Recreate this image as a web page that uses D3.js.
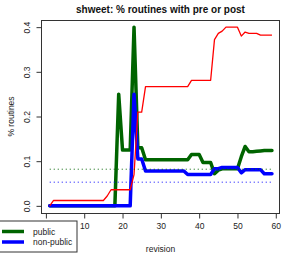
<!DOCTYPE html>
<html><head><meta charset="utf-8">
<script src="https://cdn.jsdelivr.net/npm/d3@7/dist/d3.min.js"></script>
<style>body{margin:0;background:#fff}svg{display:block}text{font-family:"Liberation Sans",Arial,Helvetica,sans-serif}</style>
</head><body><svg id="c" width="294" height="254"></svg>
<script>
const revisions = d3.range(1, 60);
const publicVals = [0,0,0,0,0,0,0,0,0,0, 0,0,0,0,0,0,0,0,0.25,0.125,
  0.125,0.125,0.4,0.13,0.13,0.103,0.103,0.103,0.103,0.103,
  0.103,0.103,0.103,0.103,0.103,0.103,0.103,0.115,0.115,0.115,
  0.097,0.097,0.097,0.072,0.08,0.083,0.083,0.083,0.083,0.083,
  0.11,0.133,0.121,0.121,0.122,0.123,0.124,0.124,0.124];
const nonPublicVals = [0,0,0,0,0,0,0,0,0,0, 0,0,0,0,0,0,0,0,0,0,
  0,0,0.25,0.105,0.105,0.078,0.078,0.078,0.078,0.078,
  0.078,0.078,0.078,0.078,0.078,0.078,0.07,0.07,0.07,0.07,
  0.07,0.07,0.07,0.083,0.083,0.086,0.086,0.086,0.086,0.086,
  0.074,0.081,0.081,0.081,0.081,0.081,0.072,0.072,0.072];
const prePostVals = [0,0.012,0.012,0.012,0.012,0.012,0.012,0.012,0.012,0.012,
  0.012,0.012,0.012,0.012,0.012,0.022,0.036,0.036,0.036,0.036,
  0.036,0.036,0.07,0.21,0.21,0.267,0.267,0.267,0.267,0.267,
  0.267,0.267,0.267,0.267,0.267,0.267,0.267,0.281,0.281,0.281,
  0.281,0.281,0.281,0.372,0.386,0.391,0.4,0.4,0.4,0.4,
  0.38,0.389,0.386,0.386,0.386,0.382,0.382,0.382,0.382];
const meanPublic = 0.082;
const meanNonPublic = 0.053;
const xTicks = [0,10,20,30,40,50,60];
const yTicks = [0,0.1,0.2,0.3,0.4];
const legendLabels = ["public","non-public"];
const legendColors = ["#006400","#0000ff"];

const svg = d3.select("#c");
const L=41, R=280, T=20, B=213;
const x = d3.scaleLinear().domain([-1.28, 61.1]).range([L, R]);
const y = d3.scaleLinear().domain([-0.016, 0.416]).range([B, T]);

const line = vals => d3.line().x((d,i)=>x(revisions[i])).y(d=>y(d))(vals);
const g = svg.append("g");
g.append("path").attr("d", line(publicVals)).attr("fill","none").attr("stroke","#006400").attr("stroke-width",3.5).attr("stroke-linejoin","round").attr("stroke-linecap","round");
g.append("path").attr("d", line(nonPublicVals)).attr("fill","none").attr("stroke","#0000ff").attr("stroke-width",3.5).attr("stroke-linejoin","round").attr("stroke-linecap","round");
g.append("path").attr("d", line(prePostVals)).attr("fill","none").attr("stroke","#ff0000").attr("stroke-width",1.3).attr("stroke-linejoin","round");
[[meanPublic,"#006400"],[meanNonPublic,"#0000ff"]].forEach(([m,c])=>{
  g.append("line").attr("x1",x(1)).attr("x2",x(59)).attr("y1",y(m)).attr("y2",y(m))
   .attr("stroke",c).attr("stroke-width",1).attr("stroke-dasharray","1,3");
});

// box
svg.append("rect").attr("x",L+0.5).attr("y",T+0.5).attr("width",R-L-1).attr("height",B-T).attr("fill","none").attr("stroke","#333").attr("stroke-width",1);

// x axis (the "0" label sits under the legend box in the reference, so it is not drawn)
const xa = svg.append("g").attr("transform",`translate(0,${B+0.5})`)
  .call(d3.axisBottom(x).tickValues(xTicks).tickSize(5).tickPadding(4).tickFormat(d => d === 0 ? "" : d3.format("d")(d)));
xa.select(".domain").attr("d",`M${x(0)},0H${x(60)}`).attr("stroke","#333");
xa.selectAll(".tick line").attr("stroke","#333");
xa.selectAll("text").attr("font-size",8.5).attr("fill","#222").attr("font-family","Liberation Sans, Arial, sans-serif");

// y axis
const ya = svg.append("g").attr("transform",`translate(${L+0.5},0)`)
  .call(d3.axisLeft(y).tickValues(yTicks).tickSize(5).tickFormat(d3.format(".1f")));
ya.select(".domain").attr("d",`M0,${y(0)}V${y(0.4)}`).attr("stroke","#333");
ya.selectAll(".tick line").attr("stroke","#333");
ya.selectAll("text").attr("font-size",8.5).attr("fill","#222").attr("font-family","Liberation Sans, Arial, sans-serif")
  .attr("x",null).attr("dy",null).attr("text-anchor","middle")
  .attr("transform","translate(-11.5,0) rotate(-90)");

// titles
svg.append("text").attr("x",(L+R)/2).attr("y",13.3).attr("text-anchor","middle").attr("font-size",10).attr("font-weight","bold").attr("fill","#111").text("shweet: % routines with pre or post");
svg.append("text").attr("x",(L+R)/2).attr("y",251.5).attr("text-anchor","middle").attr("font-size",8.5).attr("fill","#222").text("revision");
svg.append("text").attr("transform",`translate(14,${(T+B)/2}) rotate(-90)`).attr("text-anchor","middle").attr("font-size",8.5).attr("fill","#222").text("% routines");

// legend
const lg = svg.append("g");
lg.append("rect").attr("x",-5).attr("y",221).attr("width",82).attr("height",31).attr("fill","#fff").attr("stroke","#333").attr("stroke-width",1);
legendLabels.forEach((lab,i)=>{
  const yy = 231.5 + i*10.5;
  lg.append("line").attr("x1",2).attr("x2",24).attr("y1",yy).attr("y2",yy).attr("stroke",legendColors[i]).attr("stroke-width",3.5);
  lg.append("text").attr("x",33).attr("y",yy+3).attr("font-size",8.5).attr("fill","#222").text(lab);
});
</script></body></html>
